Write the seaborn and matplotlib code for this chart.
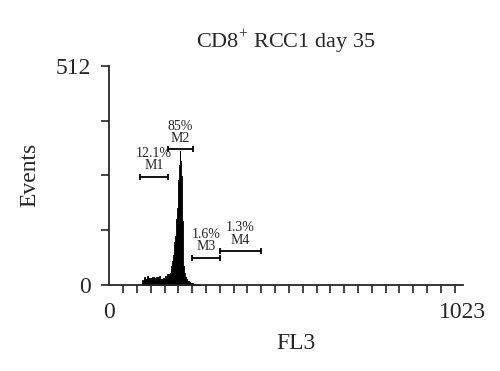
import seaborn as sns
import matplotlib.pyplot as plt
import numpy as np
import pandas as pd

# histogram bin starts (FL3 channel) and event counts
channels = [96, 100, 104, 108, 112, 116, 120, 124, 128, 132, 136, 140, 144, 148,
            152, 156, 160, 164, 168, 172,
            176, 178, 180, 182, 184, 186, 188, 190, 192, 194, 196, 198, 200, 202,
            204, 206, 208, 210, 212, 214, 216, 218, 220,
            222, 226, 230, 234, 238, 242, 246, 250, 254, 258]
events = [12, 18, 15, 20, 14, 17, 13, 19, 16, 12, 18, 14, 20, 15,
          13, 17, 22, 16, 25, 24,
          28, 35, 45, 55, 70, 85, 100, 115, 135, 155, 180, 205, 245, 280,
          312, 290, 255, 150, 80, 45, 28, 22, 18,
          14, 10, 7, 5, 4, 3, 2, 2, 1, 1]
last_edge = 262

# gate markers
gate_names = ["M1", "M2", "M3", "M4"]
gate_pct = ["12.1%", "85%", "1.6%", "1.3%"]
gate_lo = [90, 170, 240, 319]
gate_hi = [170, 243, 319, 440]
gate_y = [253, 317, 64, 79]

sns.set_style("ticks")
plt.rcParams["font.family"] = "serif"
plt.rcParams["font.serif"] = ["Liberation Serif", "DejaVu Serif"]
plt.rcParams["mathtext.fontset"] = "custom"
plt.rcParams["mathtext.rm"] = "Liberation Serif"

df = pd.DataFrame({"FL3": channels, "Events": events})

fig = plt.figure(figsize=(5, 3.71), dpi=100)
ax = fig.add_axes([0.2186, 0.2318, 0.7068, 0.5911])

sns.histplot(data=df, x="FL3", weights="Events", bins=channels + [last_edge],
             element="step", fill=True, color="black", alpha=1, linewidth=0.6, ax=ax)

for name, pct, lo, hi, y in zip(gate_names, gate_pct, gate_lo, gate_hi, gate_y):
    ax.plot([lo, hi], [y, y], color="black", lw=1.3, marker="|", markersize=5, mew=1.3)
    ax.annotate(pct + "\n" + name, xy=((lo + hi) / 2, y), xytext=(0, 3),
                textcoords="offset points", ha="center", va="bottom",
                fontsize=10, linespacing=0.95)

ax.set_xlim(0, 1023)
ax.set_ylim(0, 512)
ax.set_xticks([0, 1023])
ax.set_xticklabels(["0", "1023"])
ax.set_xticks(np.arange(0, 1001, 40), minor=True)
ax.set_yticks([0, 512])
ax.set_yticklabels(["0", "512"])
ax.set_yticks([128, 256, 384], minor=True)
ax.tick_params(axis="x", which="major", length=0, pad=12, labelsize=17)
ax.tick_params(axis="x", which="minor", length=6, width=1.2)
ax.tick_params(axis="y", which="both", length=6, width=1.2, pad=7, labelsize=17)

for s in ["top", "right"]:
    ax.spines[s].set_visible(False)
for s in ["left", "bottom"]:
    ax.spines[s].set_linewidth(1.3)

ax.set_xlabel("FL3", fontsize=17)
ax.set_ylabel("Events", fontsize=17)
ax.xaxis.set_label_coords(0.528, -0.22)
ax.yaxis.set_label_coords(-0.195, 0.5)
ax.set_title(r"CD8$^{+}$ RCC1 day 35", fontsize=16, pad=13)

fig.savefig("out.png", dpi=100)
